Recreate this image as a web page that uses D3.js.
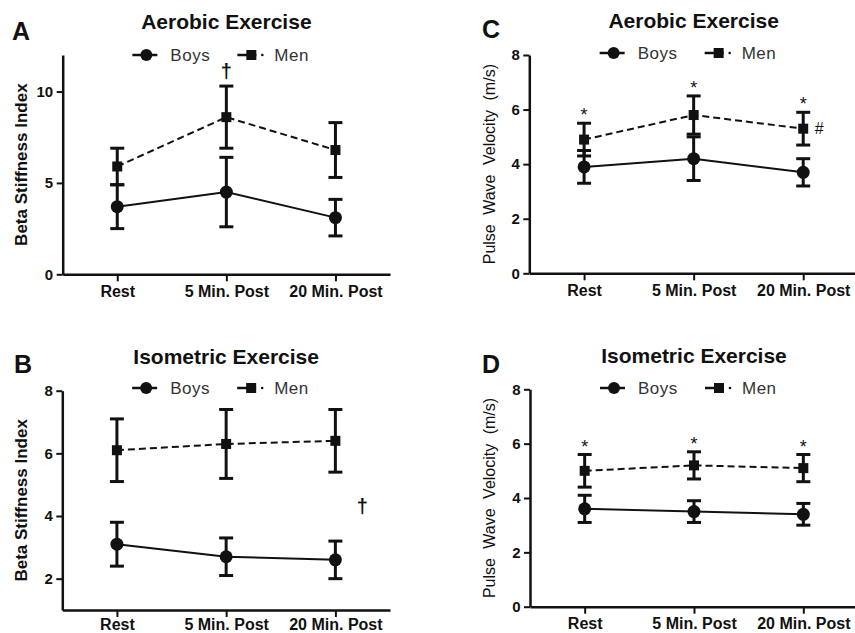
<!DOCTYPE html>
<html>
<head>
<meta charset="utf-8">
<script src="https://cdn.jsdelivr.net/npm/d3@7"></script>
<style>
    body { margin: 0; background: #fff; }
    svg { display: block; font-family: "Liberation Sans", Arial, sans-serif; }
</style>
</head>
<body>
<svg id="chart" width="855" height="633"></svg>
<script>
'use strict';

var categories = ["Rest", "5 Min. Post", "20 Min. Post"];

// A - beta stiffness, aerobic
var aBoys = [3.7, 4.5, 3.1],
    aBoysErr = [1.2, 1.9, 1.0],
    aMen = [5.9, 8.6, 6.8],
    aMenErr = [1.0, 1.7, 1.5],
    aTicks = [0, 5, 10];

// B - beta stiffness, isometric
var bBoys = [3.1, 2.7, 2.6],
    bBoysErr = [0.7, 0.6, 0.6],
    bMen = [6.1, 6.3, 6.4],
    bMenErr = [1.0, 1.1, 1.0],
    bTicks = [2, 4, 6, 8];

// C - pulse wave velocity, aerobic
var cBoys = [3.9, 4.2, 3.7],
    cBoysErr = [0.6, 0.8, 0.5],
    cMen = [4.9, 5.8, 5.3],
    cMenErr = [0.6, 0.7, 0.6],
    cTicks = [0, 2, 4, 6, 8];

// D - pulse wave velocity, isometric
var dBoys = [3.6, 3.5, 3.4],
    dBoysErr = [0.5, 0.4, 0.4],
    dMen = [5.0, 5.2, 5.1],
    dMenErr = [0.6, 0.5, 0.5],
    dTicks = [0, 2, 4, 6, 8];

// significance marks above the Men series
var aMarks = ["", "\u2020", ""],
    cMarks = ["*", "*", "*"],
    dMarks = ["*", "*", "*"];

var svg = d3.select("#chart"),
    ink = "#111";

function panel(o) {
    var g = svg.append("g");
    var x = d3.scalePoint().domain(categories).range([o.left, o.right]).padding(0.5),
        y = d3.scaleLinear().domain(o.domain).range([o.bottom, o.top]),
        cx = (o.left + o.right) / 2;

    // axes
    var ya = g.append("g")
        .attr("transform", "translate(" + o.left + ",0)")
        .call(d3.axisLeft(y).tickValues(o.ticks).tickFormat(d3.format("d"))
            .tickSize(6).tickSizeOuter(0).tickPadding(3.5));
    var xa = g.append("g")
        .attr("transform", "translate(0," + o.bottom + ")")
        .call(d3.axisBottom(x).tickSize(7).tickSizeOuter(0).tickPadding(o.xPad || 4));
    [ya, xa].forEach(function(a) {
        a.select(".domain").attr("stroke", ink).attr("stroke-width", 2.5);
        a.selectAll(".tick line").attr("stroke", ink).attr("stroke-width", 2);
        a.selectAll("text").attr("fill", ink).style("font-weight", "bold").style("font-size", "16px");
    });
    ya.selectAll("text").style("font-size", "15px");

    // titles
    g.append("text").attr("x", cx).attr("y", o.titleY)
        .attr("text-anchor", "middle").attr("fill", ink)
        .style("font-size", "21px").style("font-weight", "bold")
        .text(o.title);
    g.append("text").attr("x", o.letterX).attr("y", o.letterY)
        .attr("fill", ink).style("font-size", "25px").style("font-weight", "bold")
        .text(o.letter);
    g.append("text")
        .attr("transform", "translate(" + o.labelX + "," + (o.top + o.bottom) / 2 + ") rotate(-90)")
        .attr("text-anchor", "middle").attr("fill", ink)
        .style("font-size", o.labelBold ? "17px" : "16px")
        .style("font-weight", o.labelBold ? "bold" : "normal")
        .style("word-spacing", o.labelBold ? "0px" : "5px")
        .text(o.label);

    // legend
    var lg = g.append("g").attr("transform", "translate(" + cx + "," + o.legendY + ")");
    lg.append("line").attr("x1", -94).attr("x2", -69).attr("stroke", ink).attr("stroke-width", 2.5);
    lg.append("circle").attr("cx", -80).attr("r", 6).attr("fill", ink);
    lg.append("line").attr("x1", 11).attr("x2", 30).attr("stroke", ink).attr("stroke-width", 2.5);
    lg.append("rect").attr("x", 20).attr("y", -5).attr("width", 10).attr("height", 10).attr("fill", ink);
    lg.append("circle").attr("cx", 36).attr("r", 1.3).attr("fill", ink);
    lg.selectAll(".lt").data(["Boys", "Men"]).enter().append("text")
        .attr("x", function(d, i) { return i ? 48 : -56; })
        .attr("dy", "0.36em").attr("fill", "#333")
        .style("font-size", "17px").style("letter-spacing", "0.5px")
        .text(function(d) { return d; });

    // series: error bars, then line, then markers
    [{ v: o.men, e: o.menErr, men: true }, { v: o.boys, e: o.boysErr, men: false }].forEach(function(s) {
        var pts = categories.map(function(c, i) { return { c: c, v: s.v[i], e: s.e[i] }; });
        var eb = g.append("g").selectAll("g").data(pts).enter().append("g")
            .attr("stroke", ink).attr("stroke-width", 3);
        eb.append("line")
            .attr("x1", function(d) { return x(d.c); }).attr("x2", function(d) { return x(d.c); })
            .attr("y1", function(d) { return y(d.v - d.e); }).attr("y2", function(d) { return y(d.v + d.e); });
        [-1, 1].forEach(function(sign) {
            eb.append("line")
                .attr("x1", function(d) { return x(d.c) - 7; }).attr("x2", function(d) { return x(d.c) + 7; })
                .attr("y1", function(d) { return y(d.v + sign * d.e); }).attr("y2", function(d) { return y(d.v + sign * d.e); });
        });

        g.append("path").datum(pts)
            .attr("fill", "none").attr("stroke", ink).attr("stroke-width", 2)
            .attr("stroke-dasharray", s.men ? "7,4" : null)
            .attr("d", d3.line().x(function(d) { return x(d.c); }).y(function(d) { return y(d.v); }));

        if (s.men) {
            g.append("g").selectAll("rect").data(pts).enter().append("rect")
                .attr("x", function(d) { return x(d.c) - 5; }).attr("y", function(d) { return y(d.v) - 5; })
                .attr("width", 10).attr("height", 10).attr("fill", ink);
            if (o.marks) {
                g.append("g").selectAll("text").data(pts).enter().append("text")
                    .attr("x", function(d) { return x(d.c); })
                    .attr("y", function(d) { return y(d.v + d.e) - (o.marksDagger ? 8 : 2); })
                    .attr("text-anchor", "middle").attr("fill", ink)
                    .style("font-size", o.marksDagger ? "20px" : "18px")
                    .style("font-weight", o.marksDagger ? "bold" : "normal")
                    .text(function(d, i) { return o.marks[i]; });
            }
            if (o.hash) {
                var last = pts[pts.length - 1];
                g.append("text").attr("x", x(last.c) + 16).attr("y", y(last.v))
                    .attr("dy", "0.35em").attr("text-anchor", "middle").attr("fill", ink)
                    .style("font-size", "16px").text(o.hash);
            }
        } else {
            g.append("g").selectAll("circle").data(pts).enter().append("circle")
                .attr("cx", function(d) { return x(d.c); }).attr("cy", function(d) { return y(d.v); })
                .attr("r", 6.5).attr("fill", ink);
        }
    });

    if (o.sideMark) {
        g.append("text")
            .attr("x", x(categories[2]) + 27).attr("y", y(o.sideMark.v))
            .attr("dy", "0.3em").attr("text-anchor", "middle").attr("fill", ink)
            .style("font-size", "20px").style("font-weight", "bold")
            .text(o.sideMark.t);
    }
}

panel({
    letter: "A", title: "Aerobic Exercise", label: "Beta Stiffness Index", labelBold: true,
    left: 62.7, right: 390, top: 55, bottom: 274.3, domain: [0, 12], ticks: aTicks,
    boys: aBoys, boysErr: aBoysErr, men: aMen, menErr: aMenErr,
    marks: aMarks, marksDagger: true,
    titleY: 29, letterX: 12, letterY: 40, labelX: 27, legendY: 55
});
panel({
    letter: "B", title: "Isometric Exercise", label: "Beta Stiffness Index", labelBold: true,
    left: 62.3, right: 390, top: 390.7, bottom: 610, domain: [1, 8], ticks: bTicks,
    boys: bBoys, boysErr: bBoysErr, men: bMen, menErr: bMenErr,
    sideMark: { v: 4.3, t: "\u2020" }, xPad: 2,
    titleY: 364, letterX: 14, letterY: 373, labelX: 27, legendY: 388
});
panel({
    letter: "C", title: "Aerobic Exercise", label: "Pulse Wave Velocity (m/s)", labelBold: false,
    left: 529.3, right: 858, top: 55, bottom: 273.3, domain: [0, 8], ticks: cTicks,
    boys: cBoys, boysErr: cBoysErr, men: cMen, menErr: cMenErr,
    marks: cMarks, hash: "#",
    titleY: 28, letterX: 482, letterY: 38, labelX: 495, legendY: 53
});
panel({
    letter: "D", title: "Isometric Exercise", label: "Pulse Wave Velocity (m/s)", labelBold: false,
    left: 530, right: 858, top: 389.3, bottom: 606.7, domain: [0, 8], ticks: dTicks,
    boys: dBoys, boysErr: dBoysErr, men: dMen, menErr: dMenErr,
    marks: dMarks,
    titleY: 363, letterX: 482, letterY: 373, labelX: 495, legendY: 388
});
</script>
</body>
</html>
